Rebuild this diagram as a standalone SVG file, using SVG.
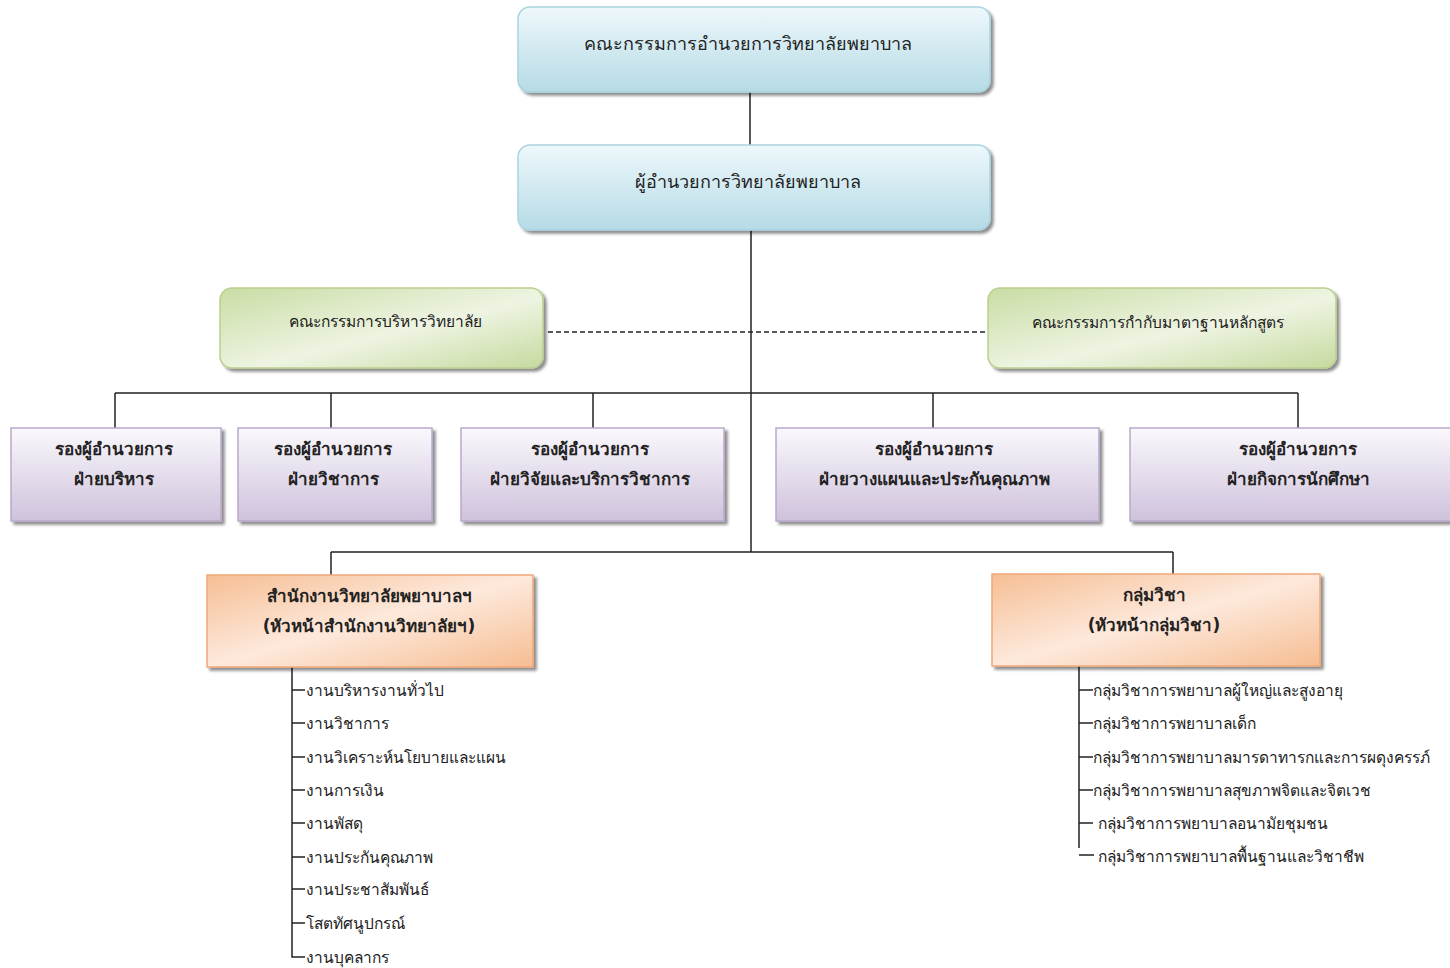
<svg xmlns="http://www.w3.org/2000/svg" width="1450" height="968" viewBox="0 0 1450 968">
<defs>
<linearGradient id="gBlue" x1="0" y1="0" x2="0" y2="1">
<stop offset="0" stop-color="#eef8fb"/><stop offset="1" stop-color="#b5dbe6"/>
</linearGradient>
<linearGradient id="gGreen" x1="0" y1="0" x2="1" y2="1">
<stop offset="0" stop-color="#c9dda4"/><stop offset="0.55" stop-color="#eef4e2"/><stop offset="1" stop-color="#c6da9f"/>
</linearGradient>
<linearGradient id="gPurple" x1="0" y1="0" x2="0" y2="1">
<stop offset="0" stop-color="#faf8fc"/><stop offset="1" stop-color="#cfc2dc"/>
</linearGradient>
<linearGradient id="gOrange" x1="0" y1="0" x2="1" y2="1">
<stop offset="0" stop-color="#f6be94"/><stop offset="0.5" stop-color="#fde9dc"/><stop offset="1" stop-color="#f6bd92"/>
</linearGradient>
<filter id="sh" x="-5%" y="-5%" width="115%" height="120%">
<feGaussianBlur in="SourceAlpha" stdDeviation="1.5"/>
<feOffset dx="3" dy="3" result="b"/>
<feComponentTransfer><feFuncA type="linear" slope="0.45"/></feComponentTransfer>
<feMerge><feMergeNode/><feMergeNode in="SourceGraphic"/></feMerge>
</filter>
</defs>
<style>
text{font-family:Tahoma,"DejaVu Sans","Noto Sans",sans-serif;fill:#222;}
.t1{font-size:18px;text-anchor:middle;}
.t2{font-size:15.5px;text-anchor:middle;}
.tb{font-size:17px;font-weight:bold;text-anchor:middle;}
.li{font-size:15.5px;}
.blue{fill:url(#gBlue);stroke:#a9d3df;stroke-width:1.5;filter:url(#sh);}
.green{fill:url(#gGreen);stroke:#b9d08e;stroke-width:1.5;filter:url(#sh);}
.purple{fill:url(#gPurple);stroke:#b9a8cc;stroke-width:1.5;filter:url(#sh);}
.orange{fill:url(#gOrange);stroke:#f0a878;stroke-width:1.5;filter:url(#sh);}
.ln{stroke:#222;stroke-width:1.5;fill:none;}
.dash{stroke:#222;stroke-width:1.3;stroke-dasharray:5,3;fill:none;}
</style>
<g id="connectors">
<path class="ln" d="M750 92V145"/>
<path class="ln" d="M751 230V552"/>
<path class="dash" d="M548 332H985"/>
<path class="ln" d="M115 393H1298M115 393V428M331 393V428M593 393V428M933 393V428M1298 393V428"/>
<path class="ln" d="M331 552H1173M331 552V575M1173 552V574"/>
<path class="ln" d="M292 667V957H305M292 690H305M292 723H305M292 757H305M292 790H305M292 823H305M292 857H305M292 889H305M292 923H305"/>
<path class="ln" d="M1079 666V848M1079 690H1093M1079 723H1093M1079 757H1093M1079 790H1093M1079 823H1093M1079 855H1094"/>
</g>
<g id="n-board">
<rect class="blue" x="518" y="7" width="472" height="85" rx="12"/>
<text class="t1" x="748" y="50">คณะกรรมการอำนวยการวิทยาลัยพยาบาล</text>
</g>
<g id="n-director">
<rect class="blue" x="518" y="145" width="472" height="85" rx="12"/>
<text class="t1" x="748" y="188">ผู้อำนวยการวิทยาลัยพยาบาล</text>
</g>
<g id="n-admin-committee">
<rect class="green" x="220" y="288" width="323" height="80" rx="12"/>
<text class="t2" x="385" y="327">คณะกรรมการบริหารวิทยาลัย</text>
</g>
<g id="n-curriculum-committee">
<rect class="green" x="988" y="288" width="348" height="80" rx="12"/>
<text class="t2" x="1158" y="328">คณะกรรมการกำกับมาตาฐานหลักสูตร</text>
</g>
<g id="n-vp1">
<rect class="purple" x="11" y="428" width="210" height="93"/>
<text class="tb" x="114" y="455">รองผู้อำนวยการ</text>
<text class="tb" x="114" y="485">ฝ่ายบริหาร</text>
</g>
<g id="n-vp2">
<rect class="purple" x="238" y="428" width="194" height="93"/>
<text class="tb" x="333" y="455">รองผู้อำนวยการ</text>
<text class="tb" x="333" y="485">ฝ่ายวิชาการ</text>
</g>
<g id="n-vp3">
<rect class="purple" x="461" y="428" width="263" height="93"/>
<text class="tb" x="590" y="455">รองผู้อำนวยการ</text>
<text class="tb" x="590" y="485">ฝ่ายวิจัยและบริการวิชาการ</text>
</g>
<g id="n-vp4">
<rect class="purple" x="776" y="428" width="323" height="93"/>
<text class="tb" x="934" y="455">รองผู้อำนวยการ</text>
<text class="tb" x="934" y="485">ฝ่ายวางแผนและประกันคุณภาพ</text>
</g>
<g id="n-vp5">
<rect class="purple" x="1130" y="428" width="330" height="93"/>
<text class="tb" x="1298" y="455">รองผู้อำนวยการ</text>
<text class="tb" x="1298" y="485">ฝ่ายกิจการนักศึกษา</text>
</g>
<g id="n-office">
<rect class="orange" x="207" y="575" width="326" height="92"/>
<text class="tb" x="369" y="602">สำนักงานวิทยาลัยพยาบาลฯ</text>
<text class="tb" x="369" y="632">(หัวหน้าสำนักงานวิทยาลัยฯ)</text>
</g>
<g id="n-departments">
<rect class="orange" x="992" y="574" width="328" height="92"/>
<text class="tb" x="1154" y="601">กลุ่มวิชา</text>
<text class="tb" x="1154" y="631">(หัวหน้ากลุ่มวิชา)</text>
</g>
<g id="list-office">
<text class="li" x="306" y="696">งานบริหารงานทั่วไป</text>
<text class="li" x="306" y="729">งานวิชาการ</text>
<text class="li" x="306" y="763">งานวิเคราะห์นโยบายและแผน</text>
<text class="li" x="306" y="796">งานการเงิน</text>
<text class="li" x="306" y="829">งานพัสดุ</text>
<text class="li" x="306" y="863">งานประกันคุณภาพ</text>
<text class="li" x="306" y="895">งานประชาสัมพันธ์</text>
<text class="li" x="306" y="929">โสตทัศนูปกรณ์</text>
<text class="li" x="306" y="963">งานบุคลากร</text>
</g>
<g id="list-departments">
<text class="li" x="1093" y="696">กลุ่มวิชาการพยาบาลผู้ใหญ่และสูงอายุ</text>
<text class="li" x="1093" y="729">กลุ่มวิชาการพยาบาลเด็ก</text>
<text class="li" x="1093" y="763">กลุ่มวิชาการพยาบาลมารดาทารกและการผดุงครรภ์</text>
<text class="li" x="1093" y="796">กลุ่มวิชาการพยาบาลสุขภาพจิตและจิตเวช</text>
<text class="li" x="1098" y="829">กลุ่มวิชาการพยาบาลอนามัยชุมชน</text>
<text class="li" x="1098" y="862">กลุ่มวิชาการพยาบาลพื้นฐานและวิชาชีพ</text>
</g>
</svg>
